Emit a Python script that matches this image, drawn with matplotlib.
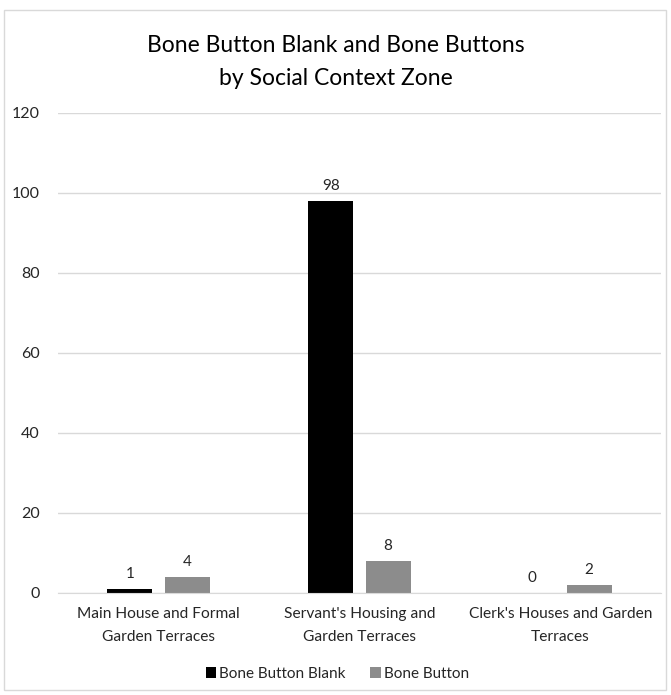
import matplotlib
matplotlib.use("Agg")
import matplotlib.pyplot as plt
from matplotlib.patches import Rectangle
import numpy as np

plt.rcParams['font.family'] = ['Lato', 'DejaVu Sans']

categories = ["Main House and Formal\nGarden Terraces",
              "Servant's Housing and\nGarden Terraces",
              "Clerk's Houses and Garden\nTerraces"]
blank_values = [1, 98, 0]
button_values = [4, 8, 2]
series_names = ["Bone Button Blank", "Bone Button"]
yticks = [0, 20, 40, 60, 80, 100, 120]

W, H = 671, 695
fig = plt.figure(figsize=(W / 100, H / 100), dpi=100)
fig.patches.append(Rectangle((4 / W, 1 - 690 / H), 662 / W, 680 / H,
                             transform=fig.transFigure, fill=False,
                             edgecolor="#d9d9d9", linewidth=1))

ax = fig.add_axes([58 / W, 1 - 593 / H, 603 / W, 480 / H])
x = np.arange(len(categories))
bw = 0.224
gap = 0.06
off = (bw + gap) / 2
b1 = ax.bar(x - off, blank_values, bw, color="#000000", label=series_names[0], zorder=3)
b2 = ax.bar(x + off, button_values, bw, color="#8c8c8c", label=series_names[1], zorder=3)
for bars, vals in ((b1, blank_values), (b2, button_values)):
    for r, v in zip(bars, vals):
        ax.annotate(f"{v}", (r.get_x() + r.get_width() / 2, v), xytext=(0, 6),
                    textcoords="offset points", ha="center", va="bottom",
                    fontsize=11, color="#262626")

ax.set_xlim(-0.5, 2.5)
ax.set_ylim(0, 120)
ax.set_yticks(yticks)
ax.set_xticks(x)
ax.set_xticklabels(categories, fontsize=11.2, color="#262626", linespacing=1.8)
ax.tick_params(axis="y", length=0, pad=13, labelsize=11.5, labelcolor="#262626")
ax.tick_params(axis="x", length=0, pad=10)
ax.grid(axis="y", color="#d9d9d9", linewidth=1, zorder=0)
for s in ("top", "right", "left"):
    ax.spines[s].set_visible(False)
ax.spines["bottom"].set_color("#d9d9d9")
ax.spines["bottom"].set_zorder(4)

fig.text(0.5, 1 - 62 / H, "Bone Button Blank and Bone Buttons\nby Social Context Zone",
         ha="center", va="center", fontsize=16.5, color="#000000", linespacing=1.75)

fig.legend(handles=[b1, b2], loc="center", bbox_to_anchor=(0.503, 1 - 674 / H),
           ncol=2, frameon=False, fontsize=11, handlelength=0.7, handleheight=0.7,
           handletextpad=0.2, columnspacing=1.6, labelcolor="#262626")

fig.savefig("out.png", dpi=100)
